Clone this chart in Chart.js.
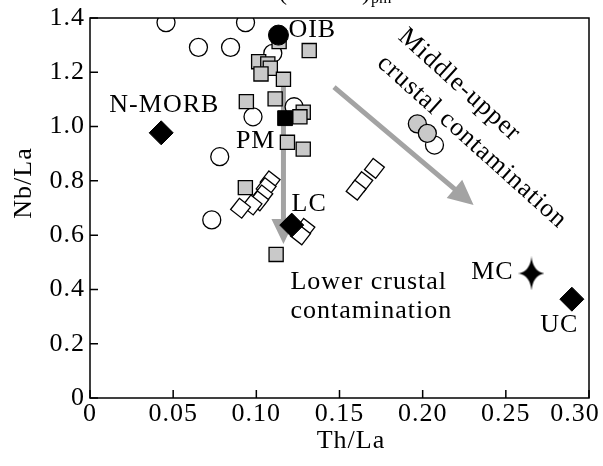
<!DOCTYPE html>
<html>
<head>
<meta charset="utf-8">
<script src="https://cdn.jsdelivr.net/npm/chart.js@4.4.0/dist/chart.umd.min.js"></script>
<style>
html, body { margin: 0; padding: 0; background: #fff; }
</style>
</head>
<body>
<canvas id="nbChart" width="603" height="466"></canvas>
<script>
// axis ticks
const xTicks = [0, 0.05, 0.10, 0.15, 0.20, 0.25, 0.30];
const xTickLabels = ["0", "0.05", "0.10", "0.15", "0.20", "0.25", "0.30\u2002\u2002"];
const yTicks = [0, 0.2, 0.4, 0.6, 0.8, 1.0, 1.2, 1.4];
const yTickLabels = ["0", "0.2", "0.4", "0.6", "0.8", "1.0", "1.2", "1.4"];

// reference reservoirs
const refNames = ["N-MORB", "OIB", "PM", "LC", "MC", "UC"];
const refTh = [0.0428, 0.1133, 0.1173, 0.1213, 0.2654, 0.2897];
const refNb = [0.977, 1.337, 1.031, 0.637, 0.459, 0.364];

// samples
const sqTh = [0.1137, 0.1318, 0.1014, 0.1069, 0.1084, 0.1028, 0.1163, 0.0940, 0.1113, 0.1282, 0.1262, 0.1187, 0.1282, 0.0934, 0.1119];
const sqNb = [1.313, 1.280, 1.239, 1.231, 1.215, 1.194, 1.174, 1.092, 1.102, 1.053, 1.036, 0.942, 0.917, 0.775, 0.529];

const openCircTh = [0.0457, 0.0935, 0.0652, 0.0845, 0.1099, 0.1227, 0.0980, 0.0780, 0.0732, 0.2071];
const openCircNb = [1.383, 1.383, 1.292, 1.292, 1.270, 1.073, 1.036, 0.889, 0.656, 0.932];

const grayCircTh = [0.1968, 0.2028];
const grayCircNb = [1.010, 0.975];

const diaTh = [0.1083, 0.1059, 0.1039, 0.1014, 0.0974, 0.0905, 0.1292, 0.1266, 0.1710, 0.1640, 0.1600];
const diaNb = [0.800, 0.775, 0.748, 0.726, 0.711, 0.699, 0.625, 0.601, 0.846, 0.797, 0.766];

// trend arrows [x1, y1, x2, y2]
const lowerArrow = [0.1163, 1.172, 0.1163, 0.567];
const upperArrow = [0.1467, 1.145, 0.2306, 0.711];

function pts(xs, ys) {
    return xs.map((x, i) => ({ x: x, y: ys[i] }));
}

function makeStar() {
    var c = document.createElement("canvas");
    c.width = 26;
    c.height = 34;
    var g = c.getContext("2d");
    g.fillStyle = "#000";
    g.beginPath();
    g.moveTo(13, 0);
    g.quadraticCurveTo(14.5, 15, 26, 17);
    g.quadraticCurveTo(14.5, 19, 13, 34);
    g.quadraticCurveTo(11.5, 19, 0, 17);
    g.quadraticCurveTo(11.5, 15, 13, 0);
    g.fill();
    return c;
}

const serif = "'Liberation Serif', 'DejaVu Serif', serif";

function arrow(ctx, x1, y1, x2, y2) {
    var a = Math.atan2(y2 - y1, x2 - x1);
    var len = Math.hypot(x2 - x1, y2 - y1);
    var shaft = 5, headLen = 25, headHalf = 12;
    ctx.save();
    ctx.translate(x2, y2);
    ctx.rotate(a);
    ctx.fillStyle = "#a3a3a3";
    ctx.beginPath();
    ctx.moveTo(-len, -shaft / 2);
    ctx.lineTo(-headLen, -shaft / 2);
    ctx.lineTo(-headLen, -headHalf);
    ctx.lineTo(0, 0);
    ctx.lineTo(-headLen, headHalf);
    ctx.lineTo(-headLen, shaft / 2);
    ctx.lineTo(-len, shaft / 2);
    ctx.closePath();
    ctx.fill();
    ctx.restore();
}

function label(ctx, chart, text, x, y, align, angle) {
    var px = chart.scales.x.getPixelForValue(x);
    var py = chart.scales.y.getPixelForValue(y);
    ctx.save();
    ctx.translate(px, py);
    if (angle) ctx.rotate(angle * Math.PI / 180);
    ctx.textAlign = align;
    ctx.textBaseline = "middle";
    ctx.fillText(text, 0, 0);
    ctx.restore();
}

const decor = {
    id: "decor",
    beforeDraw(chart) {
        chart.ctx.letterSpacing = "1px";
    },
    beforeDatasetsDraw(chart) {
        var ctx = chart.ctx, xs = chart.scales.x, ys = chart.scales.y;
        [lowerArrow, upperArrow].forEach(function (a) {
            arrow(ctx, xs.getPixelForValue(a[0]), ys.getPixelForValue(a[1]),
                xs.getPixelForValue(a[2]), ys.getPixelForValue(a[3]));
        });
    },
    afterDatasetsDraw(chart) {
        var ctx = chart.ctx, area = chart.chartArea;
        var xs = chart.scales.x, ys = chart.scales.y;
        ctx.save();
        ctx.strokeStyle = "#000";
        ctx.lineWidth = 1.5;
        ctx.strokeRect(area.left, area.top, area.right - area.left, area.bottom - area.top);
        ctx.beginPath();
        xTicks.forEach(function (v) {
            var p = xs.getPixelForValue(v);
            ctx.moveTo(p, area.bottom);
            ctx.lineTo(p, area.bottom - 8);
        });
        yTicks.forEach(function (v) {
            var p = ys.getPixelForValue(v);
            ctx.moveTo(area.left, p);
            ctx.lineTo(area.left + 8, p);
        });
        ctx.stroke();

        ctx.fillStyle = "#000";
        ctx.letterSpacing = "1px";
        ctx.font = "26px " + serif;
        label(ctx, chart, "OIB", 0.1193, 1.356, "left");
        label(ctx, chart, "N-MORB", 0.0447, 1.080, "center");
        label(ctx, chart, "PM", 0.0996, 0.947, "center");
        label(ctx, chart, "LC", 0.1318, 0.715, "center");
        label(ctx, chart, "MC", 0.2547, 0.464, "right");
        label(ctx, chart, "UC", 0.2821, 0.269, "center");
        label(ctx, chart, "Lower crustal", 0.1205, 0.427, "left");
        label(ctx, chart, "contamination", 0.1205, 0.321, "left");
        label(ctx, chart, "Middle-upper", 0.2221, 1.153, "center", 42);
        label(ctx, chart, "crustal contamination", 0.2296, 0.944, "center", 42);

        // axis titles
        ctx.textAlign = "center";
        ctx.textBaseline = "middle";
        ctx.fillText("Th/La", 351, 441);
        ctx.save();
        ctx.translate(24, 183);
        ctx.rotate(-Math.PI / 2);
        ctx.fillText("Nb/La", 0, 0);
        ctx.restore();

        // clipped heading above the frame
        ctx.letterSpacing = "0px";
        ctx.textAlign = "left";
        ctx.textBaseline = "alphabetic";
        ctx.font = "24px " + serif;
        ctx.fillText("(", 279, 0);
        ctx.fillText(")", 362, 0);
        ctx.font = "16px " + serif;
        ctx.fillText("pm", 371, 3);
        ctx.restore();
    }
};

new Chart("nbChart", {
    type: "scatter",
    data: {
        datasets: [{
            label: "Reference",
            data: pts(refTh, refNb),
            pointStyle: ["rectRot", "circle", "rect", "rectRot", makeStar(), "rectRot"],
            pointRadius: [12, 10, 10.5, 12, 13, 12],
            backgroundColor: "#000",
            borderColor: "#000",
            borderWidth: 1
        }, {
            label: "Gray squares",
            data: pts(sqTh, sqNb),
            pointStyle: "rect",
            pointRadius: 10,
            backgroundColor: "#c9c9c9",
            borderColor: "#000",
            borderWidth: 1.3
        }, {
            label: "Gray circles",
            data: pts(grayCircTh, grayCircNb),
            pointStyle: "circle",
            pointRadius: 9,
            backgroundColor: "#c9c9c9",
            borderColor: "#000",
            borderWidth: 1.3
        }, {
            label: "Open circles",
            data: pts(openCircTh, openCircNb),
            pointStyle: "circle",
            pointRadius: 9,
            backgroundColor: "#fff",
            borderColor: "#000",
            borderWidth: 1.3
        }, {
            label: "Open diamonds",
            data: pts(diaTh, diaNb),
            pointStyle: "rect",
            pointRotation: 38,
            pointRadius: 10,
            backgroundColor: "#fff",
            borderColor: "#000",
            borderWidth: 1.3
        }]
    },
    options: {
        responsive: false,
        animation: false,
        layout: { padding: { top: 18, right: 10, left: 0, bottom: 0 } },
        plugins: {
            legend: { display: false },
            tooltip: { enabled: false }
        },
        scales: {
            x: {
                type: "linear",
                min: 0,
                max: 0.3,
                afterBuildTicks: function (s) { s.ticks = xTicks.map(v => ({ value: v })); },
                afterFit: function (s) { s.height = 68; s.paddingLeft = 0; s.paddingRight = 0; },
                grid: { display: false, drawTicks: false },
                border: { display: false },
                ticks: {
                    autoSkip: false,
                    maxRotation: 0,
                    padding: 1,
                    color: "#000",
                    font: { family: serif, size: 26 },
                    callback: function (v, i) { return xTickLabels[i]; }
                }
            },
            y: {
                min: 0,
                max: 1.4,
                afterBuildTicks: function (s) { s.ticks = yTicks.map(v => ({ value: v })); },
                afterFit: function (s) { s.width = 90; s.paddingTop = 0; s.paddingBottom = 0; },
                grid: { display: false, drawTicks: false },
                border: { display: false },
                ticks: {
                    padding: 5,
                    color: "#000",
                    font: { family: serif, size: 26 },
                    callback: function (v, i) { return yTickLabels[i]; }
                }
            }
        }
    },
    plugins: [decor]
});
</script>
</body>
</html>
